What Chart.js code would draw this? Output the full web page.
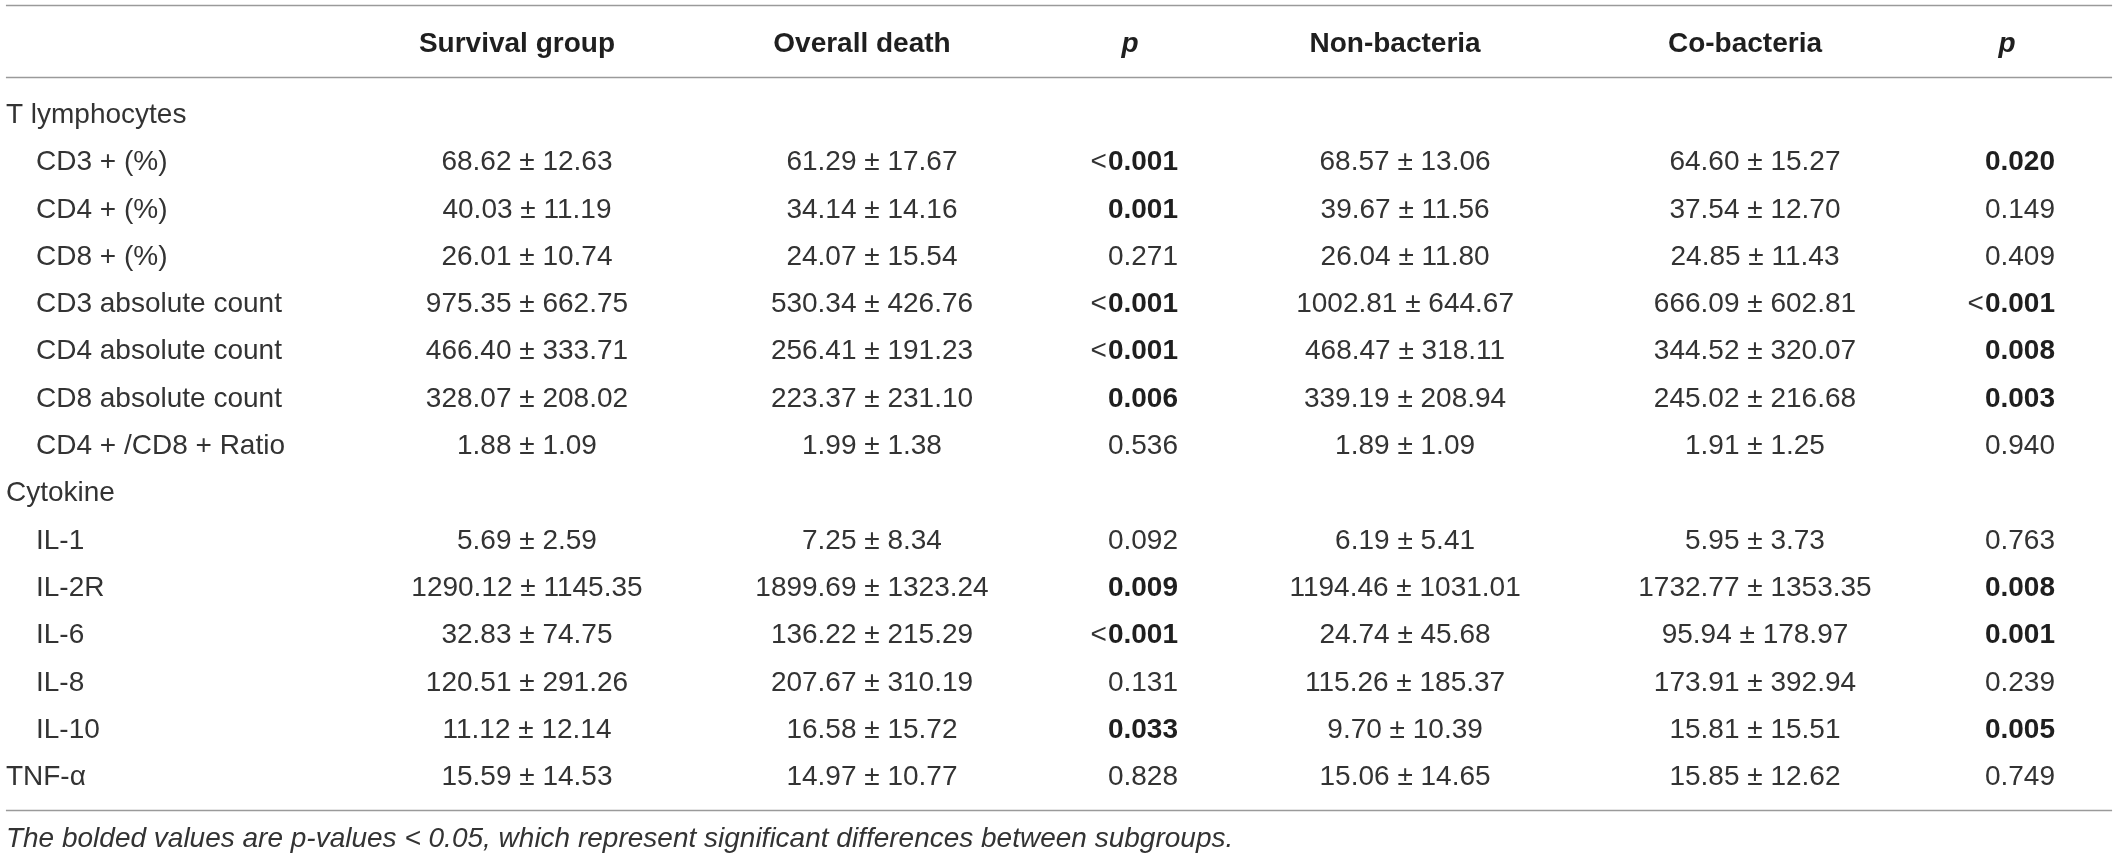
<!DOCTYPE html>
<html>
<head>
<meta charset="utf-8">
<title>T lymphocytes and cytokines by subgroup</title>
<script src="https://cdn.jsdelivr.net/npm/chart.js@4.4.1/dist/chart.umd.min.js"></script>
<style>
  html, body { margin: 0; padding: 0; background: #ffffff; }
  #wrap { position: relative; width: 2118px; height: 859px; }
</style>
</head>
<body>
<div id="wrap"><canvas id="tableChart"></canvas></div>
<script>
// column headers
var columns = ['Survival group', 'Overall death', 'p', 'Non-bacteria', 'Co-bacteria', 'p']

// row labels, group rows carry no values (null)
var rowLabels = ['T lymphocytes', 'CD3 + (%)', 'CD4 + (%)', 'CD8 + (%)', 'CD3 absolute count',
  'CD4 absolute count', 'CD8 absolute count', 'CD4 + /CD8 + Ratio', 'Cytokine',
  'IL-1', 'IL-2R', 'IL-6', 'IL-8', 'IL-10', 'TNF-α']
var indented = [false, true, true, true, true, true, true, true, false, true, true, true, true, true, false]

var survivalMean = [null, 68.62, 40.03, 26.01, 975.35, 466.40, 328.07, 1.88, null, 5.69, 1290.12, 32.83, 120.51, 11.12, 15.59]
var survivalSd   = [null, 12.63, 11.19, 10.74, 662.75, 333.71, 208.02, 1.09, null, 2.59, 1145.35, 74.75, 291.26, 12.14, 14.53]
var deathMean    = [null, 61.29, 34.14, 24.07, 530.34, 256.41, 223.37, 1.99, null, 7.25, 1899.69, 136.22, 207.67, 16.58, 14.97]
var deathSd      = [null, 17.67, 14.16, 15.54, 426.76, 191.23, 231.10, 1.38, null, 8.34, 1323.24, 215.29, 310.19, 15.72, 10.77]
var pDeath       = [null, '<0.001', '0.001', '0.271', '<0.001', '<0.001', '0.006', '0.536', null, '0.092', '0.009', '<0.001', '0.131', '0.033', '0.828']

var nonBacMean   = [null, 68.57, 39.67, 26.04, 1002.81, 468.47, 339.19, 1.89, null, 6.19, 1194.46, 24.74, 115.26, 9.70, 15.06]
var nonBacSd     = [null, 13.06, 11.56, 11.80, 644.67, 318.11, 208.94, 1.09, null, 5.41, 1031.01, 45.68, 185.37, 10.39, 14.65]
var coBacMean    = [null, 64.60, 37.54, 24.85, 666.09, 344.52, 245.02, 1.91, null, 5.95, 1732.77, 95.94, 173.91, 15.81, 15.85]
var coBacSd      = [null, 15.27, 12.70, 11.43, 602.81, 320.07, 216.68, 1.25, null, 3.73, 1353.35, 178.97, 392.94, 15.51, 12.62]
var pBac         = [null, '0.020', '0.149', '0.409', '<0.001', '0.008', '0.003', '0.940', null, '0.763', '0.008', '0.001', '0.239', '0.005', '0.749']

var footnote = 'The bolded values are p-values < 0.05, which represent significant differences between subgroups.'

// ---- layout (x in percent of table width, y in row units) ----
var colX = [24.88, 41.17, 53.35, 66.34, 82.86, 94.76]
var labelX = 0.28, indentX = 1.70
var ruleY = [-2.283, -0.761, 14.736]
var headerY = -1.5, footY = 15.31
var pShift = 48       // p values are right aligned this far right of the header centre
var headShift = -10   // group headers sit a little left of their values

var FONT = "'Liberation Sans', Arial, Helvetica, sans-serif"
var SIZE = 28

function pm(m, s) {
  if (m === null) return ''
  return m.toFixed(2) + ' ± ' + s.toFixed(2)
}

function isSignificant(p) {
  if (p.charAt(0) == '<') return true
  return parseFloat(p) < 0.05
}

// cell text for one column
function cellText(col, i) {
  if (col == 0) return pm(survivalMean[i], survivalSd[i])
  if (col == 1) return pm(deathMean[i], deathSd[i])
  if (col == 2) return pDeath[i]
  if (col == 3) return pm(nonBacMean[i], nonBacSd[i])
  if (col == 4) return pm(coBacMean[i], coBacSd[i])
  if (col == 5) return pBac[i]
}

function drawP(ctx, p, right, y) {
  var num = p.charAt(0) == '<' ? p.substring(1) : p
  ctx.textAlign = 'right'
  ctx.font = (isSignificant(p) ? 'bold ' : '') + SIZE + 'px ' + FONT
  ctx.fillStyle = isSignificant(p) ? '#1f1f1f' : '#333333'
  ctx.fillText(num, right, y)
  if (p.charAt(0) == '<') {
    var w = ctx.measureText(num).width
    ctx.font = SIZE + 'px ' + FONT
    ctx.fillStyle = '#333333'
    ctx.fillText('<', right - w - 1, y)
  }
}

var tablePlugin = {
  id: 'tableText',
  afterDraw: function(chart) {
    var ctx = chart.ctx
    var xs = chart.scales.x, ys = chart.scales.y
    var base = 10 // baseline sits below the row centre
    ctx.save()
    ctx.textBaseline = 'alphabetic'

    // horizontal rules
    ctx.strokeStyle = '#9a9a9a'
    ctx.lineWidth = 1.6
    ruleY.forEach(function(r) {
      var py = Math.round(ys.getPixelForValue(r)) + 0.5
      ctx.beginPath()
      ctx.moveTo(xs.getPixelForValue(labelX), py)
      ctx.lineTo(xs.getPixelForValue(99.72), py)
      ctx.stroke()
    })

    // header row
    var hy = ys.getPixelForValue(headerY) + base
    ctx.fillStyle = '#1f1f1f'
    ctx.textAlign = 'center'
    for (var c = 0; c < columns.length; c++) {
      var isP = columns[c] == 'p'
      ctx.font = (isP ? 'italic bold ' : 'bold ') + SIZE + 'px ' + FONT
      ctx.fillText(columns[c], xs.getPixelForValue(colX[c]) + (isP ? 0 : headShift), hy)
    }

    // body rows
    for (var i = 0; i < rowLabels.length; i++) {
      var py = ys.getPixelForValue(i) + base
      ctx.font = SIZE + 'px ' + FONT
      ctx.fillStyle = '#333333'
      ctx.textAlign = 'left'
      ctx.fillText(rowLabels[i], xs.getPixelForValue(indented[i] ? indentX : labelX), py)
      for (var c = 0; c < columns.length; c++) {
        var t = cellText(c, i)
        if (!t) continue
        var cx = xs.getPixelForValue(colX[c])
        if (columns[c] == 'p') {
          drawP(ctx, t, cx + pShift, py)
        } else {
          ctx.font = SIZE + 'px ' + FONT
          ctx.fillStyle = '#333333'
          ctx.textAlign = 'center'
          ctx.fillText(t, cx, py)
        }
      }
    }

    // footnote
    ctx.font = 'italic ' + SIZE + 'px ' + FONT
    ctx.fillStyle = '#333333'
    ctx.textAlign = 'left'
    ctx.fillText(footnote, xs.getPixelForValue(labelX), ys.getPixelForValue(footY) + base)
    ctx.restore()
  }
}

document.addEventListener('DOMContentLoaded', function(event) {
  var ctx = document.getElementById('tableChart').getContext('2d')
  var myChart = new Chart(ctx, {
    type: 'scatter',
    data: { datasets: [] },
    options: {
      responsive: true,
      maintainAspectRatio: false,
      animation: false,
      layout: { padding: 0 },
      plugins: { legend: { display: false }, tooltip: { enabled: false } },
      scales: {
        x: { type: 'linear', min: 0, max: 100, display: false },
        y: { type: 'linear', min: -2.389, max: 15.772, reverse: true, display: false }
      }
    },
    plugins: [tablePlugin]
  })
})
</script>
</body>
</html>
